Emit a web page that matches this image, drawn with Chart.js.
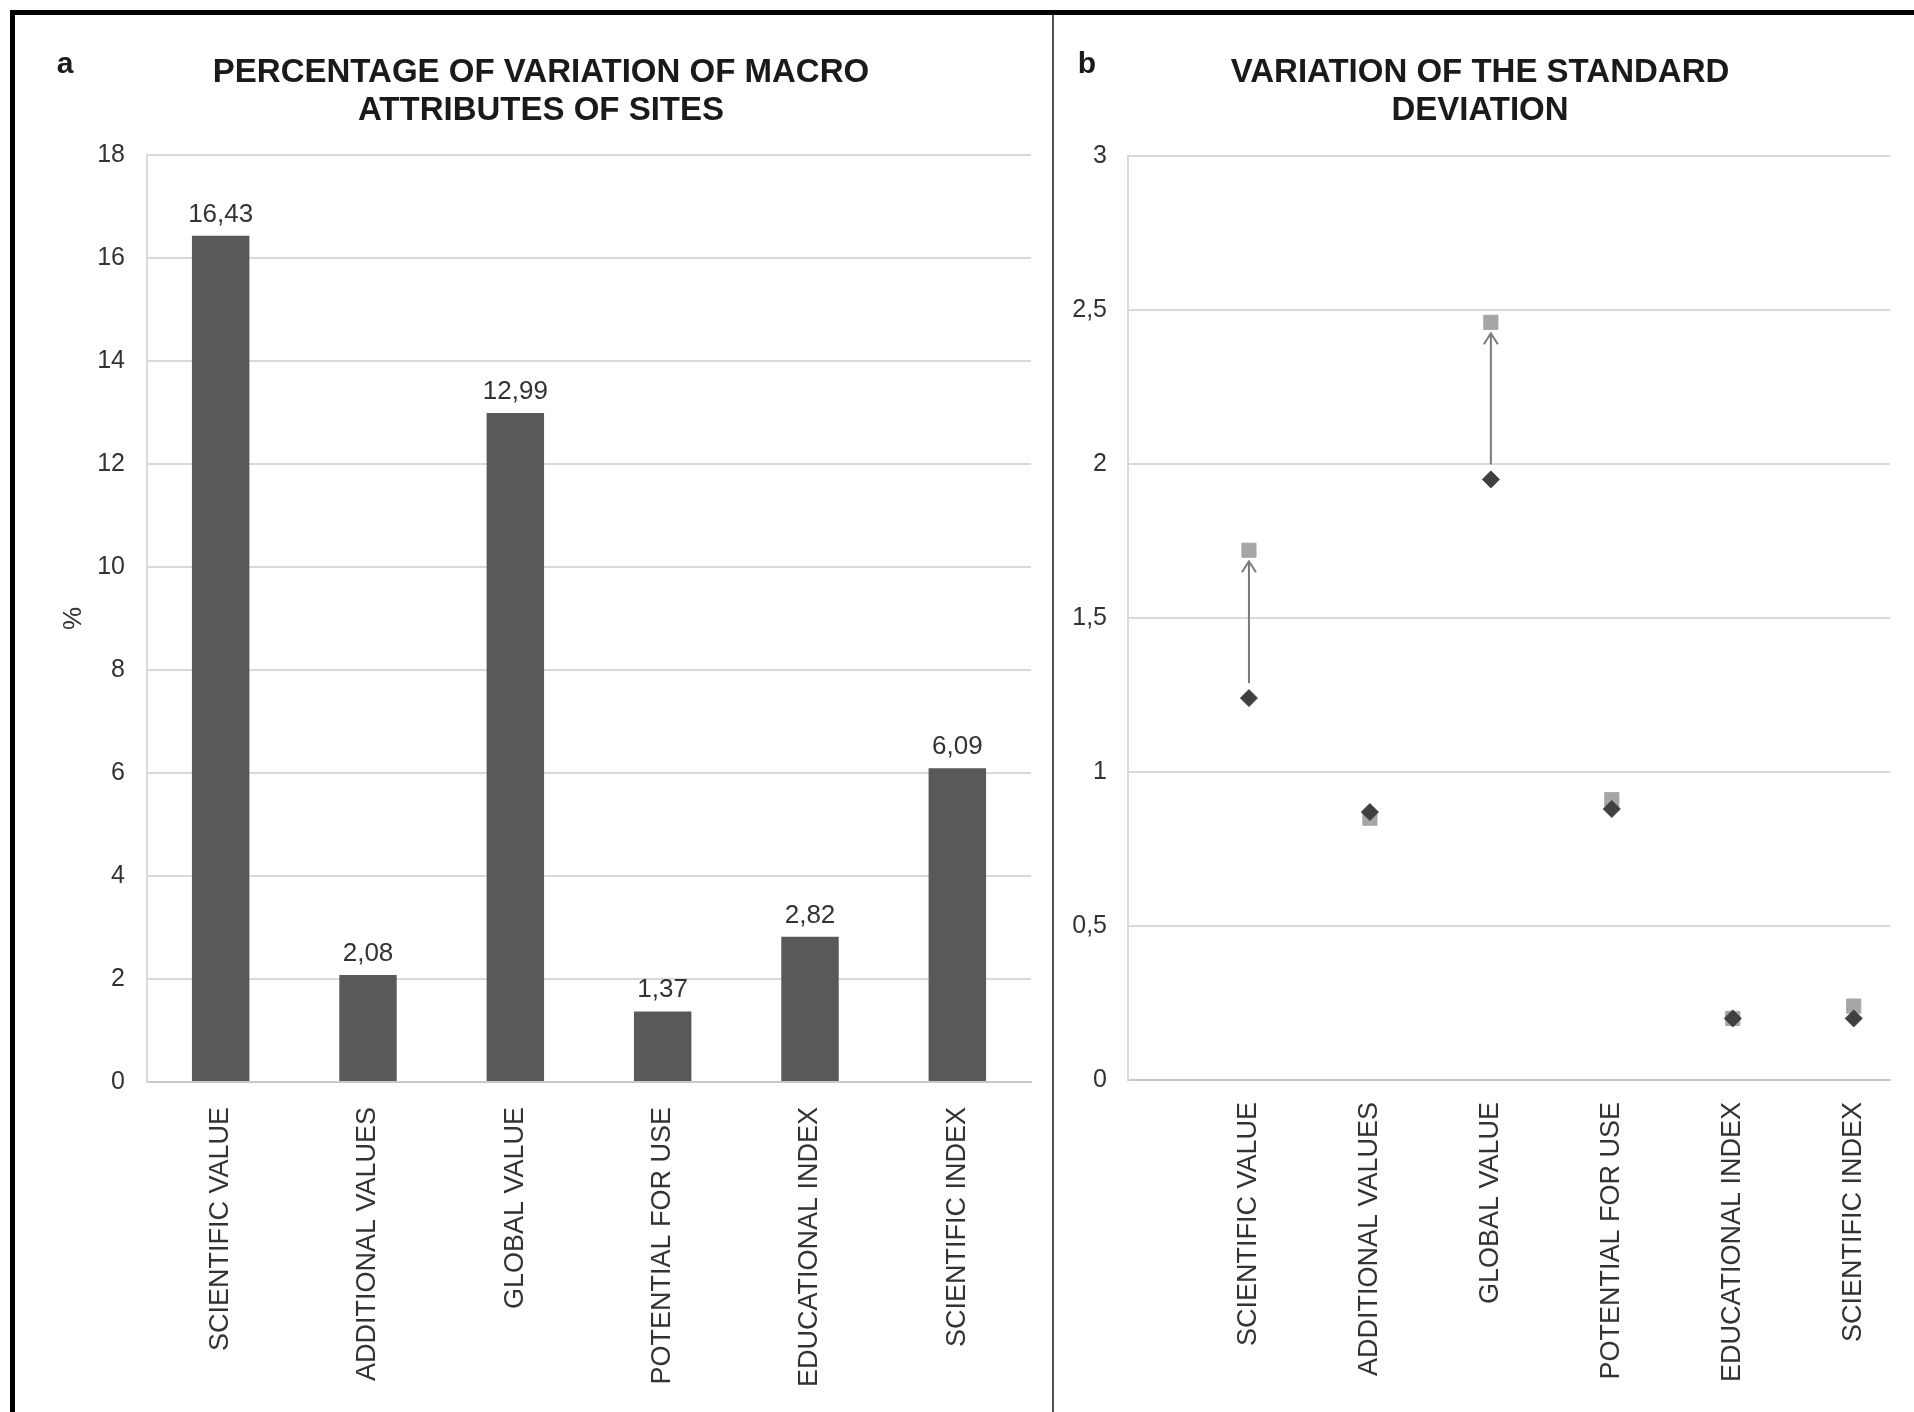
<!DOCTYPE html>
<html>
<head>
<meta charset="utf-8">
<script src="https://cdn.jsdelivr.net/npm/chart.js@4.4.0/dist/chart.umd.min.js"></script>
<style>
  html, body { margin: 0; padding: 0; background: #fff; }
  body { width: 1914px; height: 1412px; position: relative; overflow: hidden; }
  .frame-top { position: absolute; left: 10px; top: 10px; width: 1904px; height: 5px; background: #000; }
  .frame-left { position: absolute; left: 10px; top: 10px; width: 5px; height: 1402px; background: #000; }
  .divider { position: absolute; left: 1052px; top: 15px; width: 2px; height: 1397px; background: #555; }
  #wrap-a { position: absolute; left: 15px; top: 15px; width: 1037px; height: 1397px; }
  #wrap-b { position: absolute; left: 1054px; top: 15px; width: 860px; height: 1397px; }
</style>
</head>
<body>
<div class="frame-top"></div>
<div class="frame-left"></div>
<div class="divider"></div>
<div id="wrap-a"><canvas id="chart-a"></canvas></div>
<div id="wrap-b"><canvas id="chart-b"></canvas></div>
<script>
// data
const categories = ['SCIENTIFIC VALUE', 'ADDITIONAL VALUES', 'GLOBAL VALUE', 'POTENTIAL FOR USE', 'EDUCATIONAL INDEX', 'SCIENTIFIC INDEX'];
const variationPct = [16.43, 2.08, 12.99, 1.37, 2.82, 6.09];
const sdBefore = [1.24, 0.87, 1.95, 0.88, 0.20, 0.20];
const sdAfter = [1.72, 0.85, 2.46, 0.91, 0.20, 0.24];
const arrowIdx = [0, 2];

const FONT = '"Liberation Sans", Arial, sans-serif';
const TEXT = '#333333';
const GRID = '#d9d9d9';

Chart.defaults.font.family = FONT;
Chart.defaults.color = TEXT;

function commaNum(v, digits) {
  let s = digits === undefined ? String(v) : v.toFixed(digits);
  return s.replace('.', ',');
}

// small "a" / "b" letter in the corner
const panelLetter = {
  id: 'panelLetter',
  afterDraw(chart, args, opts) {
    const ctx = chart.ctx;
    ctx.save();
    ctx.font = 'bold 30px ' + FONT;
    ctx.fillStyle = '#1a1a1a';
    ctx.textAlign = 'center';
    ctx.textBaseline = 'middle';
    ctx.fillText(opts.text, opts.x, opts.y);
    ctx.restore();
  }
};

const barValueLabels = {
  id: 'barValueLabels',
  afterDatasetsDraw(chart) {
    const ctx = chart.ctx;
    const meta = chart.getDatasetMeta(0);
    ctx.save();
    ctx.font = '26px ' + FONT;
    ctx.fillStyle = TEXT;
    ctx.textAlign = 'center';
    ctx.textBaseline = 'alphabetic';
    meta.data.forEach((bar, i) => {
      ctx.fillText(commaNum(variationPct[i], 2), bar.x, bar.y - 14);
    });
    ctx.restore();
  }
};

const sdArrows = {
  id: 'sdArrows',
  afterDatasetsDraw(chart) {
    const ctx = chart.ctx;
    const xs = chart.scales.x, ys = chart.scales.y;
    ctx.save();
    ctx.strokeStyle = '#7a7a7a';
    ctx.lineWidth = 2;
    arrowIdx.forEach(i => {
      const px = xs.getPixelForValue(i + 1);
      const y0 = ys.getPixelForValue(sdBefore[i]) - 15;
      const y1 = ys.getPixelForValue(sdAfter[i]) + 11;
      ctx.beginPath();
      ctx.moveTo(px, y0);
      ctx.lineTo(px, y1);
      ctx.stroke();
      ctx.beginPath();
      ctx.moveTo(px - 7, y1 + 11);
      ctx.lineTo(px, y1);
      ctx.lineTo(px + 7, y1 + 11);
      ctx.stroke();
    });
    ctx.restore();
  }
};

new Chart(document.getElementById('chart-a'), {
  type: 'bar',
  data: {
    labels: categories,
    datasets: [{
      data: variationPct,
      backgroundColor: '#595959',
      categoryPercentage: 1,
      barPercentage: 0.39
    }]
  },
  options: {
    responsive: true,
    maintainAspectRatio: false,
    animation: false,
    layout: { padding: { left: 36, right: 21, top: 0, bottom: 0 } },
    plugins: {
      legend: { display: false },
      tooltip: { enabled: false },
      title: {
        display: true,
        text: ['PERCENTAGE OF VARIATION OF MACRO', 'ATTRIBUTES OF SITES'],
        color: '#1a1a1a',
        font: { size: 33, weight: 'bold', lineHeight: 1.15 },
        padding: { top: 38.5, bottom: 25.6 }
      },
      panelLetter: { text: 'a', x: 50, y: 50 }
    },
    scales: {
      x: {
        grid: { display: false },
        border: { display: true, color: '#c8c8c8', width: 2 },
        ticks: { font: { size: 27 }, minRotation: 90, maxRotation: 90, autoSkip: false, padding: 17 },
        afterFit: s => { s.height = 330; }
      },
      y: {
        min: 0,
        max: 18,
        ticks: { stepSize: 2, font: { size: 25 }, padding: 22 },
        grid: { color: GRID, lineWidth: 2, drawTicks: false },
        border: { display: true, color: GRID, width: 2 },
        title: { display: true, text: '%', font: { size: 26 }, padding: { top: 7, bottom: 0 } },
        afterFit: s => { s.width = 96; }
      }
    }
  },
  plugins: [barValueLabels, panelLetter]
});

new Chart(document.getElementById('chart-b'), {
  type: 'scatter',
  data: {
    datasets: [{
      data: sdBefore.map((v, i) => ({ x: i + 1, y: v })),
      pointStyle: 'rectRot',
      pointRadius: 8.5,
      backgroundColor: '#404040',
      borderColor: '#404040',
      borderWidth: 1
    }, {
      data: sdAfter.map((v, i) => ({ x: i + 1, y: v })),
      pointStyle: 'rect',
      pointRadius: 10,
      backgroundColor: '#a6a6a6',
      borderColor: '#a6a6a6',
      borderWidth: 1
    }]
  },
  options: {
    responsive: true,
    maintainAspectRatio: false,
    animation: false,
    layout: { padding: { left: 16, right: 24, top: 0, bottom: 0 } },
    plugins: {
      legend: { display: false },
      tooltip: { enabled: false },
      title: {
        display: true,
        text: ['VARIATION OF THE STANDARD', 'DEVIATION'],
        color: '#1a1a1a',
        font: { size: 33, weight: 'bold', lineHeight: 1.15 },
        padding: { top: 38.5, bottom: 26.6 }
      },
      panelLetter: { text: 'b', x: 33, y: 50 }
    },
    scales: {
      x: {
        type: 'linear',
        min: 0,
        max: 6.3,
        grid: { display: false },
        border: { display: true, color: '#c8c8c8', width: 2 },
        ticks: {
          stepSize: 1,
          includeBounds: false,
          font: { size: 27 },
          minRotation: 90,
          maxRotation: 90,
          autoSkip: false,
          padding: 14,
          callback: v => (Number.isInteger(v) && v >= 1 && v <= categories.length) ? categories[v - 1] : ''
        },
        afterFit: s => { s.height = 332; }
      },
      y: {
        min: 0,
        max: 3,
        ticks: { stepSize: 0.5, font: { size: 25 }, padding: 21, callback: v => commaNum(v) },
        grid: { color: GRID, lineWidth: 2, drawTicks: false },
        border: { display: true, color: GRID, width: 2 },
        afterFit: s => { s.width = 58; }
      }
    }
  },
  plugins: [sdArrows, panelLetter]
});
</script>
</body>
</html>
